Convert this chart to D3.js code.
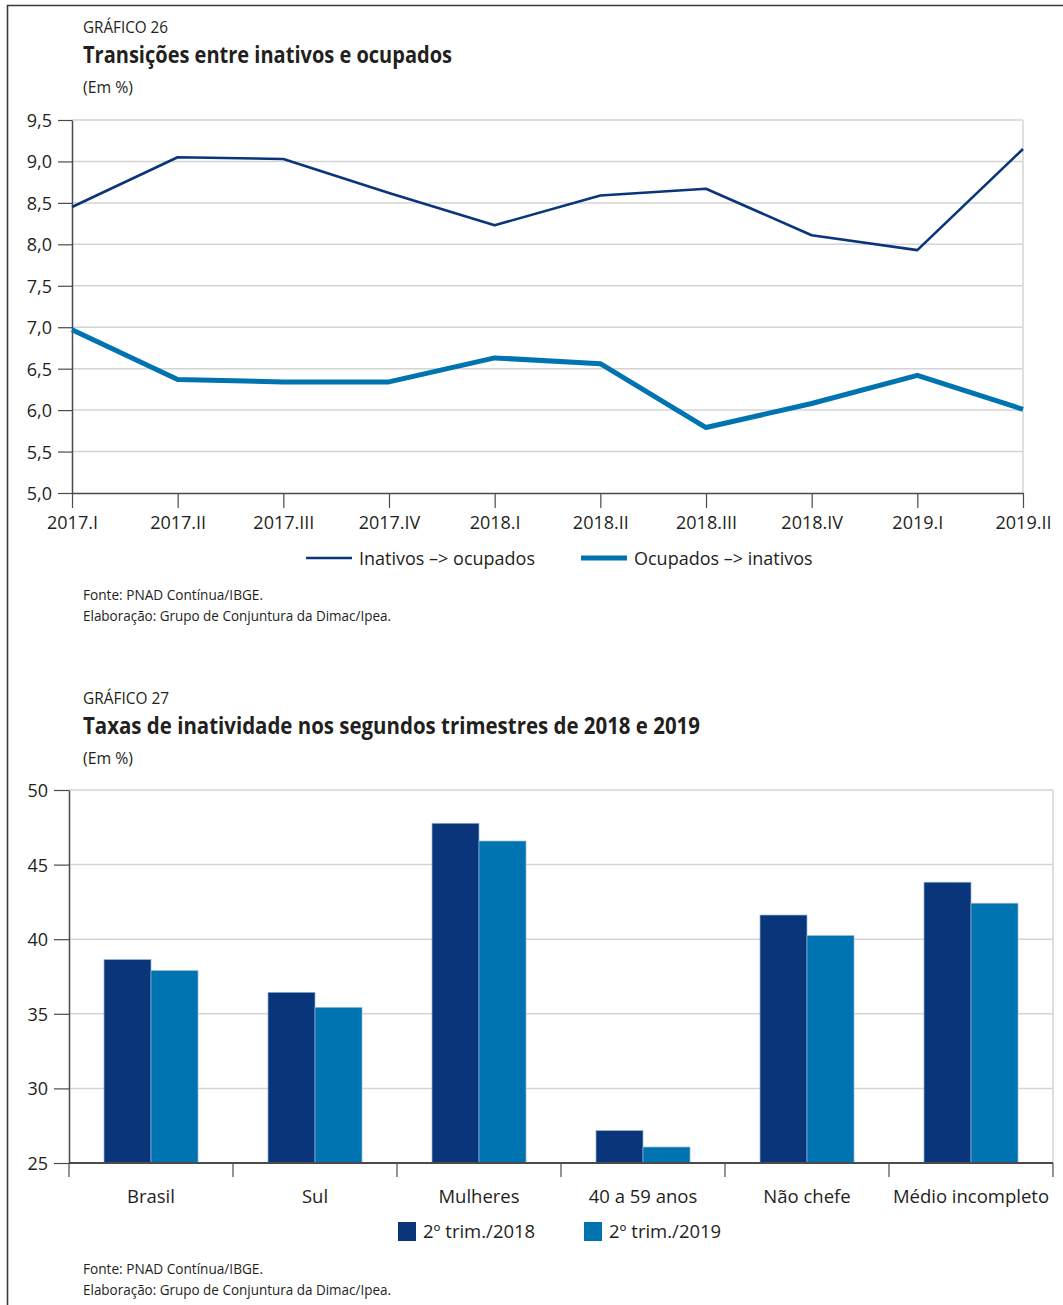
<!DOCTYPE html>
<html>
<head>
<meta charset="utf-8">
<script src="https://cdn.jsdelivr.net/npm/d3@7"></script>
<style>
  html, body { margin: 0; padding: 0; background: #fff; }
  svg { display: block; }
  text { font-family: "Open Sans", "DejaVu Sans", sans-serif; fill: #231f20; }
</style>
</head>
<body>
<svg id="page" width="1063" height="1305"></svg>
<script>
// ---- Gráfico 26: transições entre inativos e ocupados (%) ----
const periods = ["2017.I", "2017.II", "2017.III", "2017.IV", "2018.I", "2018.II", "2018.III", "2018.IV", "2019.I", "2019.II"];
const inativosOcupados = [8.45, 9.05, 9.03, 8.62, 8.23, 8.59, 8.67, 8.11, 7.93, 9.15];
const ocupadosInativos = [6.97, 6.37, 6.34, 6.34, 6.63, 6.56, 5.79, 6.08, 6.42, 6.01];
const lineTicks = [5.0, 5.5, 6.0, 6.5, 7.0, 7.5, 8.0, 8.5, 9.0, 9.5];
const lineSeriesNames = ["Inativos \u2013> ocupados", "Ocupados \u2013> inativos"];

// ---- Gráfico 27: taxas de inatividade (%) ----
const groups = ["Brasil", "Sul", "Mulheres", "40 a 59 anos", "N\u00e3o chefe", "M\u00e9dio incompleto"];
const trim2018 = [38.63, 36.44, 47.77, 27.17, 41.62, 43.82];
const trim2019 = [37.89, 35.43, 46.58, 26.07, 40.24, 42.41];
const barTicks = [25, 30, 35, 40, 45, 50];
const barSeriesNames = ["2\u00ba trim./2018", "2\u00ba trim./2019"];

const DARK = "#0a357b";
const LIGHT = "#0073b1";
const GRID = "#d4d4d4";
const AXIS = "#4a4a4a";

const svg = d3.select("#page");
const fmtComma = d => d.toFixed(1).replace(".", ",");

// outer frame (top and left rules)
svg.append("path")
  .attr("d", "M7.5,1305 V5.5 H1063")
  .attr("fill", "none").attr("stroke", "#3a3a3a").attr("stroke-width", 1.6);

// header / footer text, condensed by fitting to width
function condensed(x, y, str, size, width, weight) {
  svg.append("text")
    .attr("x", x).attr("y", y)
    .attr("font-size", size)
    .attr("font-weight", weight || 400)
    .attr("textLength", width)
    .attr("lengthAdjust", "spacingAndGlyphs")
    .text(str);
}

condensed(83, 33, "GR\u00c1FICO 26", 17, 85, 400);
condensed(83, 63, "Transi\u00e7\u00f5es entre inativos e ocupados", 23, 369, 700);
condensed(83, 93, "(Em %)", 16, 50, 400);
condensed(83, 600, "Fonte: PNAD Cont\u00ednua/IBGE.", 14.5, 180, 400);
condensed(83, 621, "Elabora\u00e7\u00e3o: Grupo de Conjuntura da Dimac/Ipea.", 14.5, 308, 400);

condensed(83, 704, "GR\u00c1FICO 27", 17, 86, 400);
condensed(83, 734, "Taxas de inatividade nos segundos trimestres de 2018 e 2019", 23, 617, 700);
condensed(83, 764, "(Em %)", 16, 50, 400);
condensed(83, 1274, "Fonte: PNAD Cont\u00ednua/IBGE.", 14.5, 180, 400);
condensed(83, 1295, "Elabora\u00e7\u00e3o: Grupo de Conjuntura da Dimac/Ipea.", 14.5, 308, 400);

// ================= line chart =================
(function () {
  const left = 72, right = 1023, top = 120, bottom = 493;
  const x = d3.scalePoint().domain(periods).range([left, right]).padding(0);
  const y = d3.scaleLinear().domain([5, 9.5]).range([bottom, top]);
  const g = svg.append("g");

  // horizontal grid
  g.append("g").selectAll("line").data(lineTicks.filter(t => t > 5)).join("line")
    .attr("x1", left).attr("x2", right)
    .attr("y1", d => y(d)).attr("y2", d => y(d))
    .attr("stroke", GRID).attr("stroke-width", 1.5);
  g.append("line").attr("x1", right).attr("x2", right).attr("y1", top).attr("y2", bottom)
    .attr("stroke", GRID).attr("stroke-width", 1.5);

  // y axis
  const yAxis = g.append("g").attr("transform", `translate(${left},0)`)
    .call(d3.axisLeft(y).tickValues(lineTicks).tickFormat(fmtComma).tickSize(14).tickSizeOuter(0).tickPadding(6));
  yAxis.select(".domain").attr("stroke", AXIS).attr("stroke-width", 1.5);
  yAxis.selectAll(".tick line").attr("stroke", AXIS).attr("stroke-width", 1.2);
  yAxis.selectAll("text").attr("font-size", 18).attr("fill", "#231f20").attr("font-family", "Open Sans").attr("dy", "0.36em");

  // x axis
  const xAxis = g.append("g").attr("transform", `translate(0,${bottom})`)
    .call(d3.axisBottom(x).tickSize(15).tickSizeOuter(0).tickPadding(8));
  xAxis.select(".domain").attr("stroke", AXIS).attr("stroke-width", 1.5);
  xAxis.selectAll(".tick line").attr("stroke", AXIS).attr("stroke-width", 1.2);
  xAxis.selectAll("text").attr("font-size", 18).attr("fill", "#231f20").attr("font-family", "Open Sans");

  const line = d3.line().x((d, i) => x(periods[i])).y(d => y(d));
  g.append("path").datum(ocupadosInativos).attr("d", line)
    .attr("fill", "none").attr("stroke", LIGHT).attr("stroke-width", 5).attr("stroke-linejoin", "round");
  g.append("path").datum(inativosOcupados).attr("d", line)
    .attr("fill", "none").attr("stroke", DARK).attr("stroke-width", 2.6).attr("stroke-linejoin", "round");

  // legend
  const leg = [
    { name: lineSeriesNames[0], color: DARK, w: 2.6, x: 306 },
    { name: lineSeriesNames[1], color: LIGHT, w: 5, x: 581 }
  ];
  const lg = g.append("g");
  leg.forEach(l => {
    lg.append("line").attr("x1", l.x).attr("x2", l.x + 46).attr("y1", 558).attr("y2", 558)
      .attr("stroke", l.color).attr("stroke-width", l.w);
    lg.append("text").attr("x", l.x + 53).attr("y", 564.5).attr("font-size", 18).text(l.name);
  });
})();

// ================= bar chart =================
(function () {
  const left = 69, right = 1053, top = 790, bottom = 1163;
  const x0 = d3.scaleBand().domain(groups).range([left, right]).padding(0);
  const x1 = d3.scaleBand().domain(barSeriesNames).range([0, x0.bandwidth()]).paddingInner(0).paddingOuter(0.745);
  const y = d3.scaleLinear().domain([25, 50]).range([bottom, top]);
  const color = d3.scaleOrdinal().domain(barSeriesNames).range([DARK, LIGHT]);
  const g = svg.append("g");

  g.append("g").selectAll("line").data(barTicks.filter(t => t > 25)).join("line")
    .attr("x1", left).attr("x2", right)
    .attr("y1", d => y(d)).attr("y2", d => y(d))
    .attr("stroke", GRID).attr("stroke-width", 1.5);
  g.append("line").attr("x1", right).attr("x2", right).attr("y1", top).attr("y2", bottom)
    .attr("stroke", GRID).attr("stroke-width", 1.5);

  const rows = groups.map((grp, i) => ({ grp, vals: [trim2018[i], trim2019[i]] }));
  g.append("g").selectAll("g").data(rows).join("g")
    .attr("transform", d => `translate(${x0(d.grp)},0)`)
    .selectAll("rect").data(d => d.vals.map((v, j) => ({ s: barSeriesNames[j], v }))).join("rect")
      .attr("x", d => x1(d.s)).attr("width", x1.bandwidth())
      .attr("y", d => y(d.v)).attr("height", d => y(25) - y(d.v))
      .attr("fill", d => color(d.s))
      .attr("stroke", "#8fb4d6").attr("stroke-width", 0.7);

  const yAxis = g.append("g").attr("transform", `translate(${left},0)`)
    .call(d3.axisLeft(y).tickValues(barTicks).tickSize(15).tickSizeOuter(0).tickPadding(6));
  yAxis.select(".domain").attr("stroke", AXIS).attr("stroke-width", 1.5);
  yAxis.selectAll(".tick line").attr("stroke", AXIS).attr("stroke-width", 1.2);
  yAxis.selectAll("text").attr("font-size", 18).attr("fill", "#231f20").attr("font-family", "Open Sans").attr("dy", "0.36em");

  // category boundary ticks on the baseline
  const bounds = groups.map(gp => x0(gp)).concat([right]);
  g.append("line").attr("x1", left).attr("x2", right).attr("y1", bottom).attr("y2", bottom)
    .attr("stroke", AXIS).attr("stroke-width", 1.8);
  g.append("g").selectAll("line").data(bounds).join("line")
    .attr("x1", d => d).attr("x2", d => d).attr("y1", bottom).attr("y2", bottom + 14)
    .attr("stroke", AXIS).attr("stroke-width", 1.2);
  g.append("g").selectAll("text").data(groups).join("text")
    .attr("x", d => x0(d) + x0.bandwidth() / 2).attr("y", 1203)
    .attr("text-anchor", "middle").attr("font-size", 18.5).text(d => d);

  // legend
  const leg = [{ name: barSeriesNames[0], x: 398 }, { name: barSeriesNames[1], x: 584 }];
  leg.forEach(l => {
    g.append("rect").attr("x", l.x).attr("y", 1222).attr("width", 18).attr("height", 19).attr("fill", color(l.name));
    g.append("text").attr("x", l.x + 25).attr("y", 1238).attr("font-size", 18.5).text(l.name);
  });
})();
</script>
</body>
</html>
